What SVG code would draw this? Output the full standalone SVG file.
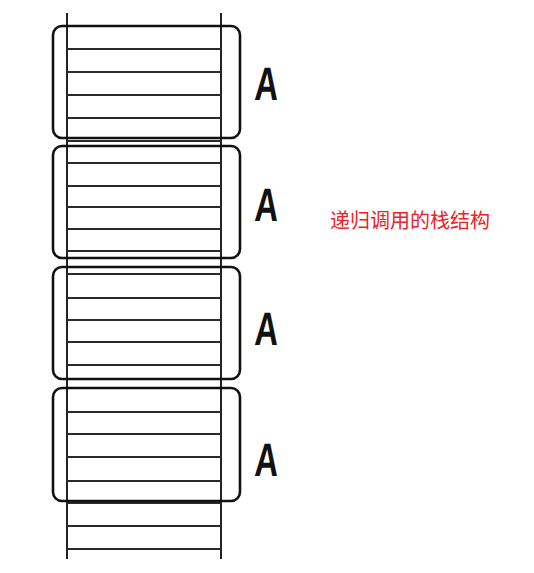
<svg xmlns="http://www.w3.org/2000/svg" width="534" height="573" viewBox="0 0 534 573">
<style>
.rail{stroke:#222;stroke-width:2;fill:none}
.rung{stroke:#2a2a2a;stroke-width:2;fill:none}
.frame{stroke:#111;stroke-width:2.6;fill:none}
.lbl{font-family:"Liberation Sans",Arial,sans-serif;font-weight:bold;font-size:47px;fill:#111}
.note{font-family:"Noto Sans CJK SC","Noto Sans",sans-serif;font-size:20px;fill:#e8232c}
</style>
<rect width="534" height="573" fill="#fff"/>
<g id="stack">
<line class="rail" x1="67" y1="13" x2="67" y2="559"/>
<line class="rail" x1="221" y1="13" x2="221" y2="559"/>
<g class="rung">
<line x1="67" y1="49" x2="221" y2="49"/>
<line x1="67" y1="72" x2="221" y2="72"/>
<line x1="67" y1="95" x2="221" y2="95"/>
<line x1="67" y1="118" x2="221" y2="118"/>
<line x1="67" y1="141" x2="221" y2="141"/>
<line x1="67" y1="163" x2="221" y2="163"/>
<line x1="67" y1="186" x2="221" y2="186"/>
<line x1="67" y1="207" x2="221" y2="207"/>
<line x1="67" y1="229" x2="221" y2="229"/>
<line x1="67" y1="251" x2="221" y2="251"/>
<line x1="67" y1="274" x2="221" y2="274"/>
<line x1="67" y1="298" x2="221" y2="298"/>
<line x1="67" y1="320" x2="221" y2="320"/>
<line x1="67" y1="342" x2="221" y2="342"/>
<line x1="67" y1="365" x2="221" y2="365"/>
<line x1="67" y1="388" x2="221" y2="388"/>
<line x1="67" y1="412" x2="221" y2="412"/>
<line x1="67" y1="434" x2="221" y2="434"/>
<line x1="67" y1="457" x2="221" y2="457"/>
<line x1="67" y1="481" x2="221" y2="481"/>
<line x1="67" y1="503" x2="221" y2="503"/>
<line x1="67" y1="526" x2="221" y2="526"/>
<line x1="67" y1="549" x2="221" y2="549"/>
</g>
</g>
<g id="frame1"><rect class="frame" x="53" y="26" width="187" height="112" rx="9"/><text class="lbl" transform="translate(254,100) scale(0.7,1) skewX(-4)">A</text></g>
<g id="frame2"><rect class="frame" x="53" y="146" width="187" height="112" rx="9"/><text class="lbl" transform="translate(254,221) scale(0.7,1) skewX(-4)">A</text></g>
<g id="frame3"><rect class="frame" x="53" y="267" width="187" height="112" rx="9"/><text class="lbl" transform="translate(254,345) scale(0.7,1) skewX(-4)">A</text></g>
<g id="frame4"><rect class="frame" x="53" y="388" width="187" height="113" rx="9"/><text class="lbl" transform="translate(254,476) scale(0.7,1) skewX(-4)">A</text></g>
<g id="connectors"/>
<text class="note" x="330" y="228">递归调用的栈结构</text>
</svg>
